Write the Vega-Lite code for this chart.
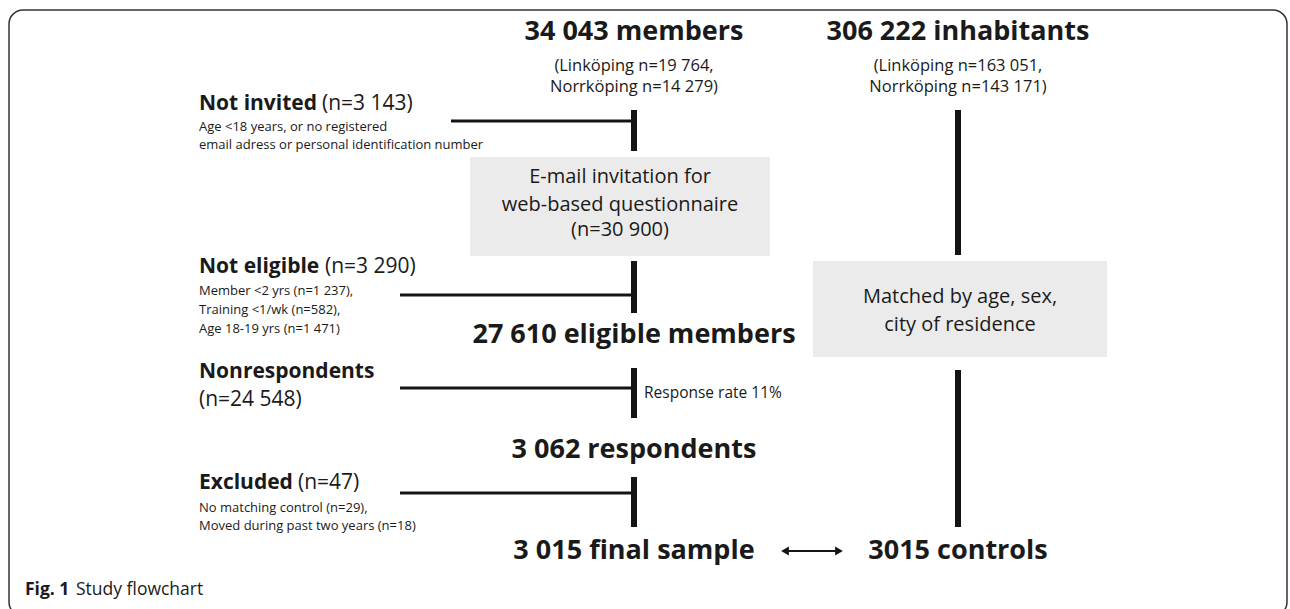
{
  "$schema": "https://vega.github.io/schema/vega-lite/v6.json",
  "width": 1290,
  "height": 609,
  "autosize": {"type": "fit", "contains": "padding"},
  "padding": 0,
  "background": "white",
  "config": {"view": {"stroke": null}, "font": "Open Sans"},
  "datasets": {
    "frame": [{"x1": 9, "x2": 1287, "y1": 10, "y2": 616}],
    "boxes": [
      {"x1": 470, "x2": 770, "y1": 157, "y2": 256},
      {"x1": 813, "x2": 1107, "y1": 261, "y2": 357}
    ],
    "vlines": [
      {"x": 634, "y1": 110, "y2": 151},
      {"x": 634, "y1": 261, "y2": 313},
      {"x": 634, "y1": 368, "y2": 418},
      {"x": 634, "y1": 477, "y2": 527},
      {"x": 958, "y1": 110, "y2": 255},
      {"x": 958, "y1": 370, "y2": 527}
    ],
    "hlines": [
      {"x1": 451, "x2": 634, "y": 121},
      {"x1": 400, "x2": 634, "y": 295},
      {"x1": 400, "x2": 634, "y": 388},
      {"x1": 400, "x2": 634, "y": 493}
    ],
    "arrow": [{"x1": 786, "x2": 838, "y": 551}],
    "heads": [
      {"x": 785, "y": 551, "dir": "left"},
      {"x": 839, "y": 551, "dir": "right"}
    ],
    "titles": [
      {"t": "34 043 members", "x": 634, "y": 32},
      {"t": "306 222 inhabitants", "x": 958, "y": 32},
      {"t": "27 610 eligible members", "x": 634, "y": 335},
      {"t": "3 062 respondents", "x": 634, "y": 450},
      {"t": "3 015 final sample", "x": 634, "y": 551},
      {"t": "3015 controls", "x": 958, "y": 551}
    ],
    "subs": [
      {"t": "(Linköping n=19 764,", "x": 634, "y": 66},
      {"t": "Norrköping n=14 279)", "x": 634, "y": 87},
      {"t": "(Linköping n=163 051,", "x": 958, "y": 66},
      {"t": "Norrköping n=143 171)", "x": 958, "y": 87}
    ],
    "boxtext": [
      {"t": "E-mail invitation for", "x": 620, "y": 177},
      {"t": "web-based questionnaire", "x": 620, "y": 205},
      {"t": "(n=30 900)", "x": 620, "y": 230},
      {"t": "Matched by age, sex,", "x": 960, "y": 297},
      {"t": "city of residence", "x": 960, "y": 325}
    ],
    "labels": [
      {"t": "Not invited", "x": 199, "y": 104},
      {"t": "Not eligible", "x": 199, "y": 267},
      {"t": "Nonrespondents", "x": 199, "y": 372},
      {"t": "Excluded", "x": 199, "y": 483}
    ],
    "counts": [
      {"t": "(n=3 143)", "x": 322, "y": 104},
      {"t": "(n=3 290)", "x": 325, "y": 267},
      {"t": "(n=24 548)", "x": 199, "y": 400},
      {"t": "(n=47)", "x": 298, "y": 483}
    ],
    "notes": [
      {"t": "Age <18 years, or no registered", "x": 199, "y": 127},
      {"t": "email adress or personal identification number", "x": 199, "y": 145},
      {"t": "Member <2 yrs (n=1 237),", "x": 199, "y": 291},
      {"t": "Training <1/wk (n=582),", "x": 199, "y": 310},
      {"t": "Age 18-19 yrs (n=1 471)", "x": 199, "y": 329},
      {"t": "No matching control (n=29),", "x": 199, "y": 508},
      {"t": "Moved during past two years (n=18)", "x": 199, "y": 526}
    ],
    "rate": [{"t": "Response rate 11%", "x": 644, "y": 393}],
    "figbold": [{"t": "Fig. 1", "x": 25, "y": 590}],
    "fignorm": [{"t": "Study flowchart", "x": 76, "y": 590}]
  },
  "encoding": {
    "x": {"type": "quantitative", "scale": {"domain": [0, 1290], "nice": false, "zero": false}, "axis": null},
    "y": {"type": "quantitative", "scale": {"domain": [0, 609], "nice": false, "zero": false, "reverse": true}, "axis": null}
  },
  "layer": [
    {
      "data": {"name": "frame"},
      "mark": {"type": "rect", "fill": null, "filled": false, "stroke": "#333333", "strokeWidth": 1.5, "cornerRadius": 14, "clip": true},
      "encoding": {"x": {"field": "x1"}, "x2": {"field": "x2"}, "y": {"field": "y1"}, "y2": {"field": "y2"}}
    },
    {
      "data": {"name": "boxes"},
      "mark": {"type": "rect", "fill": "#ebebeb"},
      "encoding": {"x": {"field": "x1"}, "x2": {"field": "x2"}, "y": {"field": "y1"}, "y2": {"field": "y2"}}
    },
    {
      "data": {"name": "vlines"},
      "mark": {"type": "rule", "stroke": "#141414", "strokeWidth": 6},
      "encoding": {"x": {"field": "x"}, "y": {"field": "y1"}, "y2": {"field": "y2"}}
    },
    {
      "data": {"name": "hlines"},
      "mark": {"type": "rule", "stroke": "#141414", "strokeWidth": 3},
      "encoding": {"x": {"field": "x1"}, "x2": {"field": "x2"}, "y": {"field": "y"}}
    },
    {
      "data": {"name": "arrow"},
      "mark": {"type": "rule", "stroke": "#141414", "strokeWidth": 2},
      "encoding": {"x": {"field": "x1"}, "x2": {"field": "x2"}, "y": {"field": "y"}}
    },
    {
      "data": {"name": "heads"},
      "mark": {"type": "point", "filled": true, "color": "#141414", "opacity": 1, "size": 80},
      "encoding": {
        "x": {"field": "x"}, "y": {"field": "y"},
        "shape": {"field": "dir", "type": "nominal", "scale": {"domain": ["left", "right"], "range": ["triangle-left", "triangle-right"]}, "legend": null}
      }
    },
    {
      "data": {"name": "titles"},
      "mark": {"type": "text", "font": "Open Sans", "fontWeight": "bold", "fontSize": 27, "align": "center", "baseline": "middle", "color": "#1a1a1a"},
      "encoding": {"x": {"field": "x"}, "y": {"field": "y"}, "text": {"field": "t"}}
    },
    {
      "data": {"name": "subs"},
      "mark": {"type": "text", "font": "Open Sans", "fontSize": 16.5, "align": "center", "baseline": "middle", "color": "#1a1a1a"},
      "encoding": {"x": {"field": "x"}, "y": {"field": "y"}, "text": {"field": "t"}}
    },
    {
      "data": {"name": "boxtext"},
      "mark": {"type": "text", "font": "Open Sans", "fontSize": 20, "align": "center", "baseline": "middle", "color": "#1a1a1a"},
      "encoding": {"x": {"field": "x"}, "y": {"field": "y"}, "text": {"field": "t"}}
    },
    {
      "data": {"name": "labels"},
      "mark": {"type": "text", "font": "Open Sans", "fontWeight": "bold", "fontSize": 21, "align": "left", "baseline": "middle", "color": "#1a1a1a"},
      "encoding": {"x": {"field": "x"}, "y": {"field": "y"}, "text": {"field": "t"}}
    },
    {
      "data": {"name": "counts"},
      "mark": {"type": "text", "font": "Open Sans", "fontSize": 21, "align": "left", "baseline": "middle", "color": "#1a1a1a"},
      "encoding": {"x": {"field": "x"}, "y": {"field": "y"}, "text": {"field": "t"}}
    },
    {
      "data": {"name": "notes"},
      "mark": {"type": "text", "font": "Open Sans", "fontSize": 13, "align": "left", "baseline": "middle", "color": "#1a1a1a"},
      "encoding": {"x": {"field": "x"}, "y": {"field": "y"}, "text": {"field": "t"}}
    },
    {
      "data": {"name": "rate"},
      "mark": {"type": "text", "font": "Open Sans", "fontSize": 15.5, "align": "left", "baseline": "middle", "color": "#1a1a1a"},
      "encoding": {"x": {"field": "x"}, "y": {"field": "y"}, "text": {"field": "t"}}
    },
    {
      "data": {"name": "figbold"},
      "mark": {"type": "text", "font": "Open Sans", "fontWeight": "bold", "fontSize": 17.5, "align": "left", "baseline": "middle", "color": "#1a1a1a"},
      "encoding": {"x": {"field": "x"}, "y": {"field": "y"}, "text": {"field": "t"}}
    },
    {
      "data": {"name": "fignorm"},
      "mark": {"type": "text", "font": "Open Sans", "fontSize": 17.5, "align": "left", "baseline": "middle", "color": "#1a1a1a"},
      "encoding": {"x": {"field": "x"}, "y": {"field": "y"}, "text": {"field": "t"}}
    }
  ]
}
